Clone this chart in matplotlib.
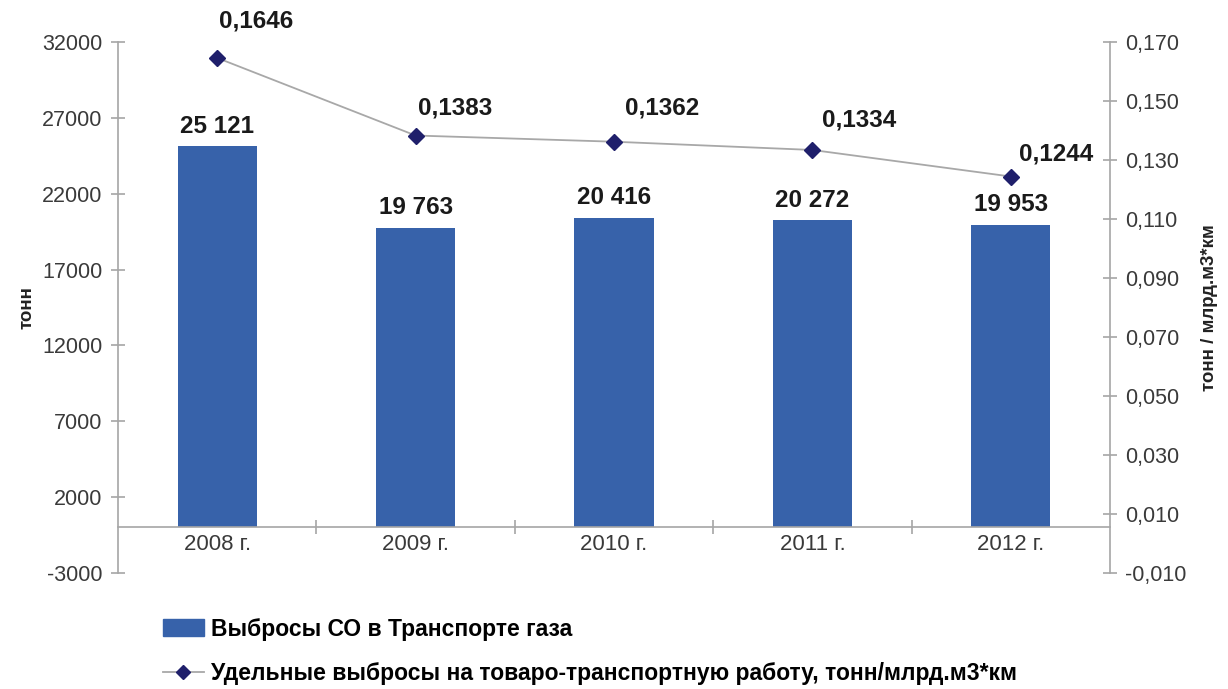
import matplotlib
matplotlib.use("Agg")
import matplotlib.pyplot as plt
from matplotlib.patches import Patch
from matplotlib.lines import Line2D
from matplotlib.ticker import FuncFormatter, FixedLocator

categories = ["2008 г.", "2009 г.", "2010 г.", "2011 г.", "2012 г."]
emissions = [25121, 19763, 20416, 20272, 19953]
specific = [0.1646, 0.1383, 0.1362, 0.1334, 0.1244]
bar_labels = ["25 121", "19 763", "20 416", "20 272", "19 953"]
line_labels = ["0,1646", "0,1383", "0,1362", "0,1334", "0,1244"]
left_ticks = [-3000, 2000, 7000, 12000, 17000, 22000, 27000, 32000]
right_ticks = [-0.010, 0.010, 0.030, 0.050, 0.070, 0.090, 0.110, 0.130, 0.150, 0.170]

# label offsets (points) for the line value labels
line_label_dx = [1.5, 1.5, 8, 7, 6]
line_label_dy = [18, 11.5, 16, 13.5, 8]

plt.rcParams['font.family'] = ['Liberation Sans', 'DejaVu Sans']

BAR = "#3762AA"
SPINE = "#A6A6A6"
TXT = "#3A3A3A"

fig = plt.figure(figsize=(12.28, 6.89), dpi=100)
ax = fig.add_axes([118/1228, 1-573/689, (1110-118)/1228, (573-42)/689])
x = list(range(len(categories)))

ax.bar(x, emissions, width=0.40, color=BAR, zorder=2)
ax.set_xlim(-0.5, len(categories)-0.5)
ax.set_ylim(-3000, 32000)
ax.yaxis.set_major_locator(FixedLocator(left_ticks))
ax.yaxis.set_major_formatter(FuncFormatter(lambda v, p: f"{int(v)}"))

for s in ["top", "right"]:
    ax.spines[s].set_visible(False)
ax.spines["left"].set_color(SPINE)
ax.spines["bottom"].set_position(("data", 0))
ax.spines["bottom"].set_color(SPINE)
ax.spines["bottom"].set_linewidth(1.2)
ax.spines["left"].set_linewidth(1.2)

ax.set_xticks(x)
ax.set_xticklabels(categories)
ax.set_xticks([i + 0.5 for i in x[:-1]], minor=True)
ax.tick_params(axis="x", which="major", length=0, pad=5, labelsize=16, labelcolor=TXT)
ax.tick_params(axis="x", which="minor", length=10, direction="inout", color=SPINE, width=1.2)
ax.tick_params(axis="y", length=10, direction="inout", color=SPINE, width=1.2,
               labelsize=15.5, labelcolor=TXT, pad=6)
ax.set_ylabel("тонн", fontsize=13.5, fontweight="bold", labelpad=5, color="#222222")

for xi, v, lab in zip(x, emissions, bar_labels):
    ax.annotate(lab, (xi, v), xytext=(0, 6), textcoords="offset points",
                ha="center", va="bottom", fontsize=17.5, fontweight="bold", color="#1a1a1a")

ax2 = ax.twinx()
ax2.set_ylim(-0.010, 0.170)
ax2.plot(x, specific, color="#A8A8A8", lw=1.3, marker="D", markersize=8.5,
         markerfacecolor="#1F1F6B", markeredgecolor="#1F1F6B", zorder=3)
ax2.yaxis.set_major_locator(FixedLocator(right_ticks))
ax2.yaxis.set_major_formatter(FuncFormatter(lambda v, p: f"{v:.3f}".replace(".", ",")))
for s in ["top", "left", "bottom"]:
    ax2.spines[s].set_visible(False)
ax2.spines["right"].set_color(SPINE)
ax2.spines["right"].set_linewidth(1.2)
ax2.tick_params(axis="y", length=10, direction="inout", color=SPINE, width=1.2,
                labelsize=15.5, labelcolor=TXT, pad=6)
ax2.set_ylabel("тонн / млрд.м3*км", fontsize=13.5, fontweight="bold", labelpad=10, color="#222222")

for xi, v, lab, dx, dy in zip(x, specific, line_labels, line_label_dx, line_label_dy):
    ax2.annotate(lab, (xi, v), xytext=(dx, dy), textcoords="offset points",
                 ha="left", va="bottom", fontsize=17.5, fontweight="bold", color="#1a1a1a")

handles = [Patch(facecolor=BAR, edgecolor=BAR),
           Line2D([0], [0], color="#A8A8A8", lw=1.3, marker="D", markersize=7,
                  markerfacecolor="#1F1F6B", markeredgecolor="#1F1F6B")]
labels = ["Выбросы СО в Транспорте газа",
          "Удельные выбросы на товаро-транспортную работу, тонн/млрд.м3*км"]
fig.legend(handles, labels, loc="upper left", bbox_to_anchor=(142/1228, 1-597/689),
           frameon=False, prop={"size": 16.5, "weight": "bold"},
           handlelength=1.8, handleheight=0.8, handletextpad=0.3, labelspacing=0.95)

fig.savefig("out.png", dpi=100)
